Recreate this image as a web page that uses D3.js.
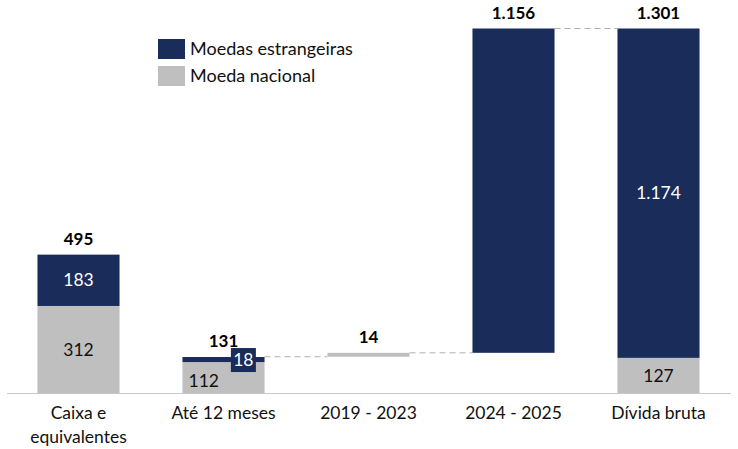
<!DOCTYPE html>
<html><head><meta charset="utf-8">
<script src="https://cdn.jsdelivr.net/npm/d3@7"></script>
<style>body{margin:0;background:#fff}svg{display:block}text{font-family:Lato,sans-serif}</style>
</head><body>
<script>
const categories = ["Caixa e equivalentes", "Até 12 meses", "2019 - 2023", "2024 - 2025", "Dívida bruta"];
const categoryLines = [["Caixa e", "equivalentes"], ["Até 12 meses"], ["2019 - 2023"], ["2024 - 2025"], ["Dívida bruta"]];
const nacional = [312, 112, 14, 0, 127];
const estrangeiras = [183, 18, 0, 1156, 1174];
const totals = [495, 131, 14, 1156, 1301];
const floating = [false, false, true, true, false];
const legendLabels = ["Moedas estrangeiras", "Moeda nacional"];

const W = 738, H = 449;
const navy = "#1a2d5a", grey = "#bfbfbf";
const svg = d3.select("body").append("svg").attr("width", W).attr("height", H);

const x = d3.scaleBand().domain(categories).range([6, 731]).paddingInner(0.434).paddingOuter(0.217);
const y = d3.scaleLinear().domain([0, 1301]).range([393.5, 28.5]);

const bases = [];
let cum = 0;
categories.forEach((c, i) => {
  if (floating[i]) { bases.push(cum); cum += totals[i]; }
  else { bases.push(0); if (i === 1) cum = totals[i]; }
});

const data = categories.map((c, i) => ({c, i, base: bases[i], nac: nacional[i], est: estrangeiras[i], tot: totals[i]}));

const conns = [[1, 2], [2, 3], [3, 4]];
svg.append("g").selectAll("line").data(conns).join("line")
  .attr("x1", d => x(categories[d[0]]) + x.bandwidth())
  .attr("x2", d => x(categories[d[1]]))
  .attr("y1", d => y(data[d[0]].base + data[d[0]].tot))
  .attr("y2", d => y(data[d[0]].base + data[d[0]].tot))
  .attr("stroke", "#b0b0b0").attr("stroke-width", 1).attr("stroke-dasharray", "6,4");

const g = svg.append("g");
g.selectAll("rect.nac").data(data.filter(d => d.nac > 0)).join("rect").attr("class", "nac")
  .attr("x", d => x(d.c)).attr("width", x.bandwidth())
  .attr("y", d => y(d.base + d.nac)).attr("height", d => y(d.base) - y(d.base + d.nac))
  .attr("fill", grey);
g.selectAll("rect.est").data(data.filter(d => d.est > 0)).join("rect").attr("class", "est")
  .attr("x", d => x(d.c)).attr("width", x.bandwidth())
  .attr("y", d => y(d.base + d.nac + d.est)).attr("height", d => y(d.base + d.nac) - y(d.base + d.nac + d.est))
  .attr("fill", navy);

const axis = svg.append("g").attr("transform", `translate(0,${y(0)})`).call(d3.axisBottom(x).tickSize(0).tickFormat(""));
axis.select(".domain").attr("stroke", "#c8c8c8").attr("d", "M7,0H731");
const fmt = v => d3.format(",")(v).replace(/,/g, ".");

categoryLines.forEach((lines, i) => {
  const t = svg.append("text").attr("x", x(categories[i]) + x.bandwidth() / 2).attr("y", 419)
    .attr("text-anchor", "middle").attr("font-size", 17.5).attr("fill", "#111");
  lines.forEach((l, k) => t.append("tspan").attr("x", x(categories[i]) + x.bandwidth() / 2).attr("dy", k ? 23.5 : 0).text(l));
});

svg.selectAll("text.tot").data(data).join("text").attr("class", "tot")
  .attr("x", d => x(d.c) + x.bandwidth() / 2)
  .attr("y", d => y(d.base + Math.max(d.tot, d.nac + d.est)) - 10)
  .attr("text-anchor", "middle").attr("font-size", 17).attr("font-weight", "bold").attr("fill", "#000")
  .text(d => fmt(d.tot));

const inside = [];
data.forEach(d => {
  if (d.i === 0 || d.i === 4) {
    inside.push({x: x(d.c) + x.bandwidth() / 2, y: (y(d.base) + y(d.base + d.nac)) / 2, v: d.nac, col: "#111"});
    inside.push({x: x(d.c) + x.bandwidth() / 2, y: (y(d.base + d.nac) + y(d.base + d.nac + d.est)) / 2, v: d.est, col: "#fff"});
  }
});
const d1 = data[1];
inside.push({x: x(d1.c) + x.bandwidth() * 0.26, y: y(0) - 13, v: d1.nac, col: "#111"});
svg.append("rect").attr("x", x(d1.c) + x.bandwidth() * 0.59).attr("y", y(d1.nac + d1.est) - 9)
  .attr("width", 25).attr("height", 24).attr("fill", navy);
inside.push({x: x(d1.c) + x.bandwidth() * 0.59 + 12.5, y: y(d1.nac + d1.est) + 3, v: d1.est, col: "#fff"});

svg.selectAll("text.in").data(inside).join("text").attr("class", "in")
  .attr("x", d => d.x).attr("y", d => d.y).attr("dy", "0.35em")
  .attr("text-anchor", "middle").attr("font-size", 17.5).attr("fill", d => d.col)
  .text(d => fmt(d.v));

const leg = svg.append("g");
[navy, grey].forEach((col, k) => {
  leg.append("rect").attr("x", 158).attr("y", 39 + k * 27).attr("width", 27).attr("height", 20).attr("fill", col);
  leg.append("text").attr("x", 190).attr("y", 49 + k * 27).attr("dy", "0.35em").attr("font-size", 18)
    .attr("fill", "#111").text(legendLabels[k]);
});
</script>
</body></html>
